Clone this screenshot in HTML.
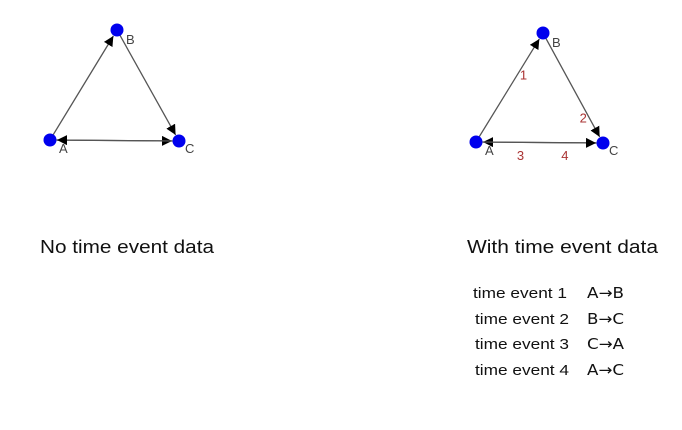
<!DOCTYPE html>
<html><head><meta charset="utf-8"><style>
html,body{margin:0;padding:0;background:#fff;width:682px;height:430px;overflow:hidden}
svg{display:block;font-family:"Liberation Sans",sans-serif}
</style></head><body>
<svg id="s" width="682" height="430">
<defs><marker id="ah" viewBox="0 0 10 10" refX="10" refY="5" markerWidth="10" markerHeight="10" markerUnits="userSpaceOnUse" orient="auto"><path d="M0,0 L10,5 L0,10 z" fill="#000"/></marker></defs>
<g id="g"></g>
<text x="40" y="253" font-size="18" textLength="174" lengthAdjust="spacingAndGlyphs" fill="#111">No time event data</text>
<text x="467" y="253" font-size="18" textLength="191" lengthAdjust="spacingAndGlyphs" fill="#111">With time event data</text>
<g id="tbl"></g>
</svg>
<script>
const ns="http://www.w3.org/2000/svg";
const nodeNames=["A","B","C"];
const leftPos=[[50,140],[117,30],[179,141]];
const rightPos=[[476,142],[543,33],[603,143]];
const leftEdges=[["A","B"],["B","C"],["A","C"],["C","A"]];
const rightEdges=[["A","B",1],["B","C",2],["C","A",3],["A","C",4]];
const events=["time event 1","time event 2","time event 3","time event 4"];
const eventEdges=["A→B","B→C","C→A","A→C"];
const g=document.getElementById('g');
function mk(t,a){const e=document.createElementNS(ns,t);for(const k in a)e.setAttribute(k,a[k]);return e;}
function drawGraph(pos,edges,prefix,labels){
  const idx=n=>nodeNames.indexOf(n);
  edges.forEach((ed,i)=>{
    const p=pos[idx(ed[0])],q=pos[idx(ed[1])];
    const dx=q[0]-p[0],dy=q[1]-p[1],L=Math.hypot(dx,dy);
    const ux=dx/L,uy=dy/L;
    const l=mk('line',{x1:p[0]+ux*4,y1:p[1]+uy*4,x2:q[0]-ux*7,y2:q[1]-uy*7,stroke:'#555','stroke-width':1.3,'marker-end':'url(#ah)'});
    
    
    g.appendChild(l);
    if(labels&&ed[2]!==undefined){
      let tx,ty;
      if(ed[0]==="A"&&ed[1]==="B"){tx=p[0]+dx*0.62+6;ty=p[1]+dy*0.62+5;}
      else if(ed[0]==="B"&&ed[1]==="C"){tx=p[0]+dx*0.77-6;ty=p[1]+dy*0.77+5;}
      else if(ed[0]==="C"&&ed[1]==="A"){tx=q[0]+dx*-0.35;ty=q[1]+18;}
      else {tx=p[0]+dx*0.7;ty=p[1]+18;}
      const t=mk('text',{x:tx,y:ty,'font-size':13,fill:'#a33','text-anchor':'middle'});
      t.textContent=ed[2];
      
      
      g.appendChild(t);
    }
  });
  const lo=[[14,17],[14,18],[11,16]];
  pos.forEach((p,i)=>{
    const c=mk('circle',{cx:p[0],cy:p[1],r:6.5,fill:'#0000ee'});
    
    
    g.appendChild(c);
    const t=mk('text',{x:p[0]+lo[i][0]-5,y:p[1]+lo[i][1]-4,'font-size':13,fill:'#444'});
    t.textContent=nodeNames[i];
    
    
    g.appendChild(t);
  });
}
drawGraph(leftPos,leftEdges,'left',false);
drawGraph(rightPos,rightEdges,'right',true);
const tbl=document.getElementById('tbl');
const rowY=[298,324,349,375];
events.forEach((ev,i)=>{
  const t=mk('text',{x:i===0?473:475,y:rowY[i],'font-size':15,fill:'#111',textLength:94,lengthAdjust:'spacingAndGlyphs'});
  t.textContent=ev;
  
  
  tbl.appendChild(t);
  const t2=mk('text',{x:587,y:rowY[i],'font-size':15,fill:'#111',textLength:37,lengthAdjust:'spacingAndGlyphs',"font-family":'"DejaVu Sans",sans-serif'});
  t2.textContent=eventEdges[i];
  
  
  tbl.appendChild(t2);
});
</script>
</body></html>
